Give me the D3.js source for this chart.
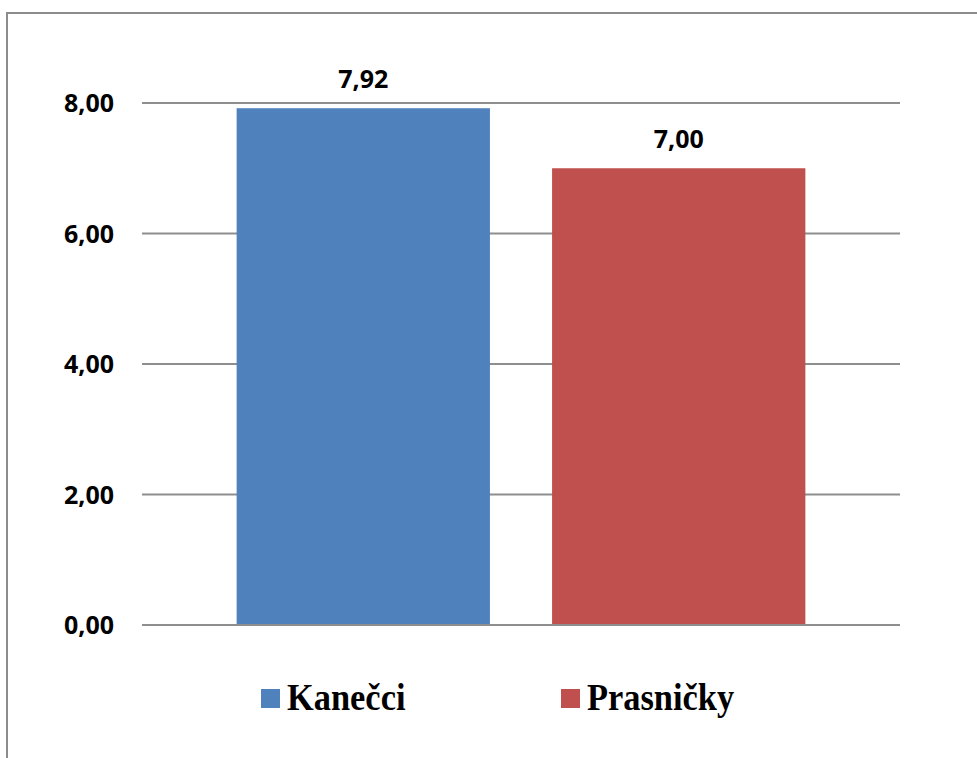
<!DOCTYPE html>
<html>
<head>
<meta charset="utf-8">
<script src="https://cdn.jsdelivr.net/npm/d3@7"></script>
<style>
  body { margin: 0; background: #fff; }
  svg { display: block; }
</style>
</head>
<body>
<div id="chart"></div>
<script>
var categories = ["Kanečci", "Prasničky"];
var values = [7.92, 7.00];
var colors = ["#4F81BD", "#C0504D"];
var yTicks = [0, 2, 4, 6, 8];

var width = 977, height = 758;

var svg = d3.select("#chart").append("svg")
  .attr("width", width)
  .attr("height", height);

// outer frame (only left and top visible in crop)
svg.append("path")
  .attr("d", "M7," + height + "V13H" + width)
  .attr("fill", "none")
  .attr("stroke", "#8c8c8c")
  .attr("stroke-width", 2);

var x = d3.scaleBand()
  .domain(categories)
  .range([142, 900])
  .paddingInner(0.197)
  .paddingOuter(0.30);

var y = d3.scaleLinear()
  .domain([0, 8])
  .range([625, 103]);

var fmt = function(v) { return d3.format(".2f")(v).replace(".", ","); };

// gridlines
svg.append("g")
  .selectAll("line")
  .data(yTicks)
  .join("line")
  .attr("x1", 142).attr("x2", 900)
  .attr("y1", function(d) { return y(d); })
  .attr("y2", function(d) { return y(d); })
  .attr("stroke", "#8e8e8e")
  .attr("stroke-width", 2);

// y labels
svg.append("g")
  .selectAll("text")
  .data(yTicks)
  .join("text")
  .attr("x", 114)
  .attr("y", function(d) { return y(d) + 9; })
  .attr("text-anchor", "end")
  .attr("font-family", "'Open Sans', sans-serif")
  .attr("font-weight", "bold")
  .attr("font-size", 25)
  .text(fmt);

// bars
svg.append("g")
  .selectAll("rect")
  .data(values)
  .join("rect")
  .attr("x", function(d, i) { return x(categories[i]); })
  .attr("width", x.bandwidth())
  .attr("y", function(d) { return y(d); })
  .attr("height", function(d) { return y(0) - y(d); })
  .attr("fill", function(d, i) { return colors[i]; });

// redraw zero line on top of bars
svg.append("line")
  .attr("x1", 142).attr("x2", 900)
  .attr("y1", y(0)).attr("y2", y(0))
  .attr("stroke", "#8e8e8e")
  .attr("stroke-width", 2);

// value labels
svg.append("g")
  .selectAll("text")
  .data(values)
  .join("text")
  .attr("x", function(d, i) { return x(categories[i]) + x.bandwidth() / 2; })
  .attr("y", function(d) { return y(d) - 20; })
  .attr("text-anchor", "middle")
  .attr("font-family", "'Open Sans', sans-serif")
  .attr("font-weight", "bold")
  .attr("font-size", 25)
  .text(fmt);

// legend
var legendX = [261, 561];
var legend = svg.append("g")
  .selectAll("g")
  .data(categories)
  .join("g")
  .attr("transform", function(d, i) { return "translate(" + legendX[i] + ",689)"; });

legend.append("rect")
  .attr("width", 19)
  .attr("height", 19)
  .attr("fill", function(d, i) { return colors[i]; });

legend.append("text")
  .attr("transform", "translate(26,21) scale(0.93,1)")
  .attr("font-family", "'Liberation Serif', 'Times New Roman', serif")
  .attr("font-weight", "bold")
  .attr("font-size", 37)
  .text(function(d) { return d; });
</script>
</body>
</html>
